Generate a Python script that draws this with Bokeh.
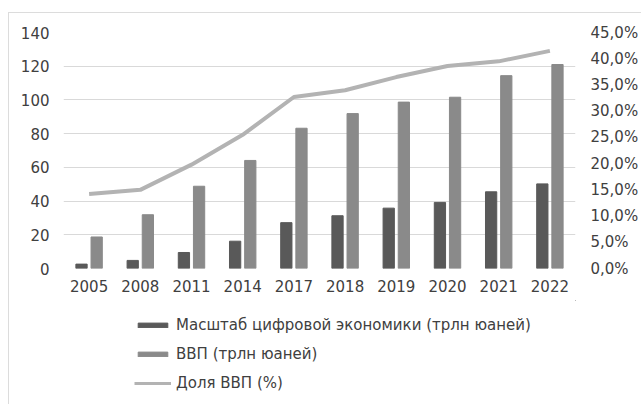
from bokeh.plotting import figure
from bokeh.layouts import column
from bokeh.models import (FactorRange, Range1d, LinearAxis, FixedTicker, Legend, LegendItem)
from bokeh.transform import dodge
from bokeh.embed import file_html
from bokeh.resources import INLINE

# Digital economy of China vs GDP
years = ["2005", "2008", "2011", "2014", "2017", "2018", "2019", "2020", "2021", "2022"]
digital = [2.6, 4.8, 9.5, 16.2, 27.2, 31.3, 35.8, 39.2, 45.5, 50.2]
gdp = [18.7, 31.9, 48.8, 64.1, 83.2, 91.9, 98.7, 101.6, 114.4, 121.0]
share = [14.2, 15.0, 19.8, 25.5, 32.7, 34.0, 36.5, 38.6, 39.5, 41.5]

left_ticks = [0, 20, 40, 60, 80, 100, 120, 140]
right_ticks = [0, 5, 10, 15, 20, 25, 30, 35, 40, 45]

labels = ["Масштаб цифровой экономики (трлн юаней)", "ВВП (трлн юаней)", "Доля ВВП (%)"]

FONT = "DejaVu Sans"
FSIZE = "15px"
TXT = "#404040"
C_DIG, C_GDP, C_SHARE = "#595959", "#8a8a8a", "#b3b3b3"
BORDER = "1px solid #dcdcdc"

p = figure(width=633, height=288, x_range=FactorRange(*years, range_padding=0),
           y_range=Range1d(0, 140), output_backend="svg", toolbar_location=None,
           min_border_left=54, min_border_right=67, min_border_top=19, min_border_bottom=33,
           margin=(12, 0, 0, 8), styles={"border-top": BORDER, "border-left": BORDER})
p.outline_line_color = None
p.extra_y_ranges = {"pct": Range1d(0, 45)}

src = dict(x=years, digital=digital, gdp=gdp)
p.vbar(x=dodge("x", -0.148, range=p.x_range), top="digital", width=0.22, source=src, color=C_DIG)
p.vbar(x=dodge("x", 0.148, range=p.x_range), top="gdp", width=0.22, source=src, color=C_GDP)
p.line(years, share, y_range_name="pct", line_color=C_SHARE, line_width=4)

# axes
p.yaxis.ticker = FixedTicker(ticks=left_ticks)
ax2 = LinearAxis(y_range_name="pct", ticker=FixedTicker(ticks=right_ticks),
                 major_label_overrides={t: f"{t:.1f}%".replace(".", ",") for t in right_ticks})
p.add_layout(ax2, "right")
for ax in [p.xaxis[0], p.yaxis[0], ax2]:
    ax.axis_line_color = None
    ax.major_tick_line_color = None
    ax.minor_tick_line_color = None
    ax.major_tick_out = 0
    ax.major_tick_in = 0
    ax.minor_tick_out = 0
    ax.major_label_text_font = FONT
    ax.major_label_text_font_size = FSIZE
    ax.major_label_text_color = TXT
p.yaxis.major_label_standoff = 14
p.xaxis.major_label_standoff = 11
ax2.major_label_standoff = 15

p.xgrid.grid_line_color = None
p.ygrid.grid_line_color = "#d9d9d9"
p.ygrid.grid_line_width = 1

# legend strip under the chart (its swatch renderers sit outside the visible range)
lg = figure(width=633, height=104, output_backend="svg", toolbar_location=None,
            x_range=Range1d(0, 1), y_range=Range1d(0, 1),
            x_axis_location=None, y_axis_location=None,
            min_border=0, margin=(0, 0, 0, 8), styles={"border-left": BORDER})
lg.grid.visible = False
lg.outline_line_color = None
r1 = lg.vbar(x=[5], top=[5], bottom=[4], width=0.1, color=C_DIG)
r2 = lg.vbar(x=[5], top=[5], bottom=[4], width=0.1, color=C_GDP)
r3 = lg.line(x=[5, 6], y=[5, 6], line_color=C_SHARE, line_width=3)

legend = Legend(items=[LegendItem(label=labels[0], renderers=[r1]),
                       LegendItem(label=labels[1], renderers=[r2]),
                       LegendItem(label=labels[2], renderers=[r3])],
                location=(71, 12), orientation="vertical")
legend.label_text_font = FONT
legend.label_text_font_size = FSIZE
legend.label_text_color = TXT
legend.glyph_width = 37
legend.glyph_height = 6
legend.label_standoff = 5
legend.label_height = 18
legend.spacing = 11
legend.padding = 0
legend.margin = 0
legend.border_line_color = None
legend.background_fill_alpha = 0
lg.add_layout(legend, "center")

open("out.html", "w").write(file_html(column(p, lg, spacing=0), INLINE))
